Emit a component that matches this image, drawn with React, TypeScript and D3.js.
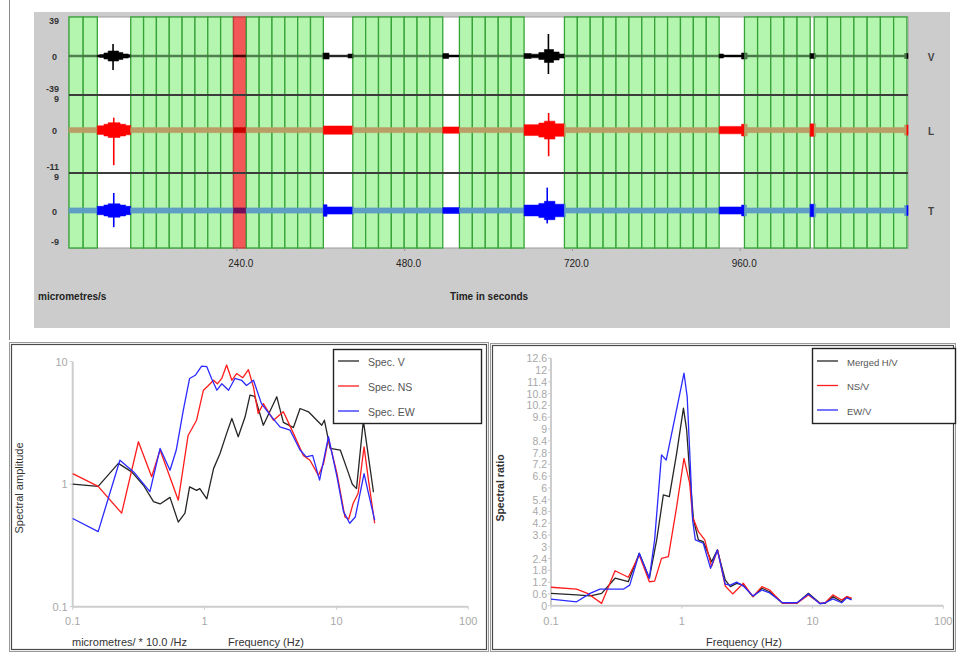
import React from 'react';
import * as d3 from 'd3';

// ---------------- Top panel: three-component record ----------------
const TIME_DOMAIN = [0, 1200];
const TIME_TICKS = [240, 480, 720, 960];
const TIME_TICK_LABELS = ['240.0', '480.0', '720.0', '960.0'];
const CHANNEL_NAMES = ['V', 'L', 'T'];
const CHANNEL_RANGES = [[-39, 39], [-11, 9], [-9, 9]];
const CHANNEL_TICK_LABELS = [['39', '0', '-39'], ['9', '0', '-11'], ['9', '0', '-9']];
// selected windows: [start s, end s, number of windows]
const WINDOW_RUNS = [
  [0, 40.5, 2],
  [88.3, 363.8, 15],
  [405.9, 534.6, 7],
  [558.4, 650.9, 5],
  [708.6, 929.9, 12],
  [966.1, 1060.1, 5],
  [1065.8, 1198.4, 7],
];
// [run index, window index] of rejected windows
const REJECTED_WINDOWS = [[1, 8]];
// background noise half-amplitude per channel (channel units)
const NOISE_LEVEL = [0.9, 0.65, 0.62];
// louder parts of each trace: [start s, end s, half-amplitude]
const LOUD_V = [[40, 44, 1.0], [44, 50, 1.5], [50, 56, 3], [56, 70, 5], [70, 76, 3.5], [76, 84, 2], [84, 88, 1.2], [363, 371, 3], [371, 399, 0.8], [399, 406, 2], [535, 542, 2.5], [542, 558, 0.9], [651, 660, 2.5], [660, 672, 1.8], [672, 680, 3.5], [680, 692, 6.5], [692, 700, 4], [700, 708, 2], [930, 935, 2], [935, 962, 0.9], [962, 969, 3], [1060, 1067, 2.5], [1195, 1200, 2.5]];
const LOUD_L = [[40, 50, 1.1], [50, 56, 1.5], [56, 72, 1.9], [72, 80, 1.5], [80, 88, 1.2], [364, 406, 1.05], [535, 558, 0.8], [651, 672, 1.4], [672, 680, 1.8], [680, 694, 2.3], [694, 709, 1.6], [930, 966, 0.95], [962, 969, 1.5], [1060, 1067, 1.6], [1195, 1200, 1.3]];
const LOUD_T = [[40, 50, 1.0], [50, 56, 1.3], [56, 72, 1.6], [72, 80, 1.3], [80, 88, 1.0], [364, 406, 0.85], [364, 368, 1.4], [535, 558, 0.7], [651, 672, 1.3], [672, 680, 1.7], [680, 694, 2.2], [694, 709, 1.5], [930, 966, 0.85], [962, 968, 1.3], [1060, 1067, 1.5], [1195, 1200, 1.2]];
const LOUD = [LOUD_V, LOUD_L, LOUD_T];
// spikes: [time s, up, down]
const SPIKES_V = [[63, 12, 14], [685.7, 22, 18]];
const SPIKES_L = [[64, 3.2, 9], [686, 4.4, 6.7]];
const SPIKES_T = [[64, 4.2, 4.0], [684, 5.5, 3.1]];
const SPIKES = [SPIKES_V, SPIKES_L, SPIKES_T];

// ---------------- Bottom left: spectra ----------------
const SPEC_V_F = [0.1, 0.156, 0.222, 0.28, 0.344, 0.41, 0.46, 0.547, 0.632, 0.71, 0.77, 0.87, 0.92, 1.04, 1.17, 1.31, 1.47, 1.61, 1.8, 2.03, 2.21, 2.4, 2.79, 3.53, 3.96, 4.72, 5.3, 6.14, 7.1, 7.74, 8.1, 8.96, 10.7, 12.0, 13.2, 14.2, 16.0, 19.1];
const SPEC_V_A = [1.0, 0.96, 1.48, 1.26, 0.98, 0.72, 0.69, 0.78, 0.49, 0.58, 0.95, 0.89, 0.92, 0.76, 1.34, 1.78, 2.6, 3.44, 2.44, 3.55, 5.33, 5.2, 3.03, 5.17, 3.2, 2.9, 4.15, 3.9, 3.33, 3.03, 3.33, 1.96, 1.9, 1.34, 1.0, 0.92, 3.3, 0.86];
const SPEC_NS_F = [0.1, 0.156, 0.235, 0.315, 0.397, 0.46, 0.632, 0.75, 0.87, 0.98, 1.07, 1.17, 1.25, 1.35, 1.47, 1.61, 1.75, 1.95, 2.15, 2.35, 2.55, 2.79, 3.33, 3.96, 4.72, 5.6, 6.3, 7.3, 8.0, 8.7, 10.1, 11.6, 12.4, 13.4, 14.6, 16.2, 17.5, 19.5];
const SPEC_NS_A = [1.22, 0.96, 0.58, 2.22, 1.15, 1.9, 0.74, 2.5, 3.33, 5.85, 6.4, 7.05, 6.6, 7.3, 9.4, 7.05, 8.0, 7.4, 8.6, 6.2, 3.78, 4.55, 3.33, 3.9, 2.6, 1.72, 1.57, 1.18, 1.48, 2.36, 1.22, 0.54, 0.52, 0.7, 0.84, 2.02, 1.08, 0.48];
const SPEC_EW_F = [0.1, 0.156, 0.228, 0.29, 0.385, 0.46, 0.547, 0.61, 0.69, 0.77, 0.85, 0.95, 1.04, 1.13, 1.24, 1.35, 1.52, 1.7, 1.91, 2.08, 2.35, 2.7, 3.15, 3.73, 4.45, 5.3, 5.9, 6.6, 7.45, 8.7, 10.1, 11.3, 12.6, 13.9, 16.2, 17.5, 19.5];
const SPEC_EW_A = [0.525, 0.41, 1.57, 1.26, 0.87, 1.96, 1.3, 1.9, 4.02, 7.3, 7.75, 9.2, 9.1, 7.3, 5.85, 6.6, 5.85, 7.3, 7.05, 6.4, 7.05, 4.55, 3.66, 2.94, 2.76, 1.9, 1.67, 1.72, 1.08, 2.44, 1.15, 0.6, 0.48, 0.54, 1.22, 0.84, 0.51];
const SPEC_NAMES = ['Spec. V', 'Spec. NS', 'Spec. EW'];
const SPEC_Y_TICKS = [10, 1, 0.1];
const SPEC_Y_LABELS = ['10', '1', '0.1'];
const FREQ_TICKS = [0.1, 1, 10, 100];
const FREQ_LABELS = ['0.1', '1', '10', '100'];

// ---------------- Bottom right: H/V ratios ----------------
const HV_F = [0.1, 0.157, 0.2, 0.244, 0.309, 0.39, 0.473, 0.565, 0.643, 0.723, 0.803, 0.914, 1.03, 1.09, 1.15, 1.23, 1.34, 1.46, 1.69, 1.87, 2.15, 2.35, 2.63, 2.96, 3.5, 4.1, 4.7, 5.9, 7.6, 9.3, 11.4, 12.5, 14.3, 16.7, 18.3, 19.9];
const HV_V = [0.63, 0.55, 0.5, 0.63, 1.4, 1.22, 2.67, 1.4, 3.35, 5.64, 5.55, 7.76, 10.06, 8.95, 6.74, 4.37, 3.35, 3.26, 2.24, 2.84, 1.31, 0.97, 1.14, 1.05, 0.46, 0.89, 0.71, 0.12, 0.12, 0.63, 0.12, 0.12, 0.46, 0.2, 0.46, 0.33];
const NSV_F = [0.1, 0.157, 0.19, 0.244, 0.309, 0.39, 0.473, 0.565, 0.62, 0.7, 0.79, 0.914, 1.04, 1.15, 1.21, 1.34, 1.5, 1.69, 1.88, 2.15, 2.45, 2.96, 3.5, 4.1, 4.7, 5.9, 7.6, 9.3, 11.4, 12.5, 14.3, 16.7, 18.3, 19.9];
const NSV_V = [0.94, 0.84, 0.63, 0.12, 1.78, 1.45, 2.58, 1.22, 1.25, 2.41, 2.5, 5.04, 7.5, 6.23, 4.53, 3.77, 3.35, 1.99, 2.84, 1.0, 0.6, 1.14, 0.46, 0.97, 0.8, 0.12, 0.12, 0.55, 0.12, 0.15, 0.55, 0.29, 0.46, 0.38];
const EWV_F = [0.1, 0.157, 0.199, 0.237, 0.357, 0.4, 0.473, 0.565, 0.62, 0.7, 0.76, 0.89, 1.04, 1.1, 1.17, 1.21, 1.27, 1.46, 1.66, 1.87, 2.15, 2.35, 2.63, 2.96, 3.5, 4.1, 4.7, 5.9, 7.6, 9.3, 11.4, 12.5, 14.3, 16.7, 18.3, 19.9];
const EWV_V = [0.33, 0.2, 0.63, 0.84, 0.84, 1.05, 2.67, 1.4, 3.35, 7.68, 7.42, 9.63, 11.84, 10.65, 6.74, 4.37, 3.35, 3.18, 1.9, 2.84, 1.1, 1.05, 1.2, 1.0, 0.5, 0.8, 0.65, 0.15, 0.15, 0.6, 0.1, 0.15, 0.35, 0.15, 0.4, 0.3];
const HV_NAMES = ['Merged H/V', 'NS/V', 'EW/V'];
const RATIO_TICKS = [0, 0.6, 1.2, 1.8, 2.4, 3, 3.6, 4.2, 4.8, 5.4, 6, 6.6, 7.2, 7.8, 8.4, 9, 9.6, 10.2, 10.8, 11.4, 12, 12.6];
const RATIO_LABELS = ['0', '0.6', '1.2', '1.8', '2.4', '3', '3.6', '4.2', '4.8', '5.4', '6', '6.6', '7.2', '7.8', '8.4', '9', '9.6', '10.2', '10.8', '11.4', '12', '12.6'];

const FONT = 'Liberation Sans, Arial, sans-serif';
const GAP_COLORS = ['#000000', '#ff0000', '#0000ff'];
const WIN_COLORS = ['#4a7a4a', '#bb9e66', '#5f9fc6'];
const REJ_COLORS = ['#3a0000', '#c80000', '#70105a'];
const SERIES_COLORS = ['#262626', '#ff1c1c', '#2b2bff'];

export default function App() {
  // ----- top panel geometry -----
  const plotL = 69, plotR = 908, plotT = 17, plotB = 248;
  const chTops = [17, 95, 173];
  const chBots = [95, 173, 248];
  const x = d3.scaleLinear().domain(TIME_DOMAIN).range([plotL, plotR]);
  const yCh = CHANNEL_RANGES.map((r, i) => d3.scaleLinear().domain(r).range([chBots[i], chTops[i]]));

  const windows = WINDOW_RUNS.flatMap(([a, b, n], ri) =>
    d3.range(n).map((i) => ({
      t0: a + ((b - a) * i) / n,
      t1: a + ((b - a) * (i + 1)) / n,
      rejected: REJECTED_WINDOWS.some(([r, k]) => r === ri && k === i),
    }))
  );
  const bounds = Array.from(new Set([TIME_DOMAIN[0], TIME_DOMAIN[1], ...windows.flatMap((w) => [w.t0, w.t1])])).sort((a, b) => a - b);
  const stateAt = (t: number) => {
    const w = windows.find((w) => t >= w.t0 && t <= w.t1);
    return w ? (w.rejected ? 'rej' : 'win') : 'gap';
  };
  const colorFor = (c: number, s: string) => (s === 'gap' ? GAP_COLORS[c] : s === 'rej' ? REJ_COLORS[c] : WIN_COLORS[c]);
  const ampAt = (c: number, t: number) => {
    let a = -1;
    for (const [s, e, v] of LOUD[c]) if (t >= s && t <= e) a = Math.max(a, v);
    return a < 0 ? NOISE_LEVEL[c] : a;
  };
  const intervals = d3.pairs(bounds).filter(([a, b]) => b - a > 0.01);

  const traceEls: any[] = [];
  CHANNEL_NAMES.forEach((_, c) => {
    const y = yCh[c];
    const area = d3
      .area<number>()
      .x((t) => x(t))
      .y0((t) => y(-ampAt(c, t)))
      .y1((t) => y(ampAt(c, t)))
      .curve(d3.curveStepAfter);
    intervals.forEach(([a, b], k) => {
      const pts = [a, ...d3.range(Math.ceil(a), b, 1).filter((t) => t > a), b];
      const col = colorFor(c, stateAt((a + b) / 2));
      traceEls.push(<path key={`tr${c}-${k}`} d={area(pts) || ''} fill={col} stroke={col} strokeWidth={0.6} />);
    });
    SPIKES[c].forEach(([t, up, dn], k) => {
      traceEls.push(<line key={`sp${c}-${k}`} x1={x(t)} x2={x(t)} y1={y(up)} y2={y(-dn)} stroke={colorFor(c, stateAt(t))} strokeWidth={1.6} />);
    });
  });

  // ----- bottom-left spectra -----
  const xL = d3.scaleLog().domain([0.1, 100]).range([72.7, 468.3]);
  const yL = d3.scaleLog().domain([0.1, 10]).range([606.7, 361.7]);
  const lineL = d3.line<[number, number]>().x((d) => xL(d[0])).y((d) => yL(d[1]));
  const specSeries = [
    d3.zip(SPEC_V_F, SPEC_V_A),
    d3.zip(SPEC_NS_F, SPEC_NS_A),
    d3.zip(SPEC_EW_F, SPEC_EW_A),
  ] as [number, number][][];

  // ----- bottom-right H/V -----
  const xR = d3.scaleLog().domain([0.1, 100]).range([551, 943.3]);
  const yR = d3.scaleLinear().domain([0, 12.6]).range([605.7, 358.3]);
  const lineR = d3.line<[number, number]>().x((d) => xR(d[0])).y((d) => yR(d[1]));
  const hvSeries = [d3.zip(HV_F, HV_V), d3.zip(NSV_F, NSV_V), d3.zip(EWV_F, EWV_V)] as [number, number][][];

  const tickGray = '#a8a8a8';
  const axisGray = '#cdcdcd';

  return (
    <svg width={957} height={653} style={{ position: 'absolute', left: 0, top: 0, background: '#fff' }} fontFamily={FONT}>
      <rect x={0} y={0} width={957} height={653} fill="#fff" />
      {/* left thin line */}
      <line x1={9.5} x2={9.5} y1={0} y2={340} stroke="#8a8a8a" strokeWidth={1} />

      {/* ===== Top panel ===== */}
      <rect x={34} y={12} width={916} height={316} fill="#cccccc" />
      <rect x={plotL} y={plotT} width={plotR - plotL} height={plotB - plotT} fill="#ffffff" stroke="#9c9c9c" strokeWidth={1} />
      {windows.map((w, i) => (
        <rect
          key={`w${i}`}
          x={x(w.t0)}
          y={plotT}
          width={x(w.t1) - x(w.t0)}
          height={plotB - plotT}
          fill={w.rejected ? '#f25858' : '#b4f6b0'}
          stroke={w.rejected ? '#c53a3a' : '#36a336'}
          strokeWidth={1.3}
        />
      ))}
      {traceEls}
      {/* channel separators */}
      <line x1={plotL} x2={plotR} y1={95} y2={95} stroke="#3c3c3c" strokeWidth={2} />
      <line x1={plotL} x2={plotR} y1={173} y2={173} stroke="#3c3c3c" strokeWidth={2} />
      {TIME_TICKS.map((t) => (
        <line key={`tt${t}`} x1={x(t)} x2={x(t)} y1={plotB} y2={plotB + 3} stroke="#999" />
      ))}
      {/* channel tick labels */}
      {CHANNEL_NAMES.map((n, c) => (
        <g key={`cl${c}`} fontSize={9} fontWeight="bold" fill="#333" textAnchor="end">
          <text x={59} y={chTops[c] + 4} dominantBaseline="central">{CHANNEL_TICK_LABELS[c][0]}</text>
          <text x={57} y={yCh[c](0) + 1} dominantBaseline="central">{CHANNEL_TICK_LABELS[c][1]}</text>
          <text x={59} y={chBots[c] - 6} dominantBaseline="central">{CHANNEL_TICK_LABELS[c][2]}</text>
          <text x={931} y={yCh[c](0) + 1} dominantBaseline="central" textAnchor="middle" fontSize={10} fill="#444">{n}</text>
        </g>
      ))}
      {TIME_TICKS.map((t, i) => (
        <text key={`tl${t}`} x={x(t) + 4} y={263} textAnchor="middle" dominantBaseline="central" fontSize={10} fill="#222">
          {TIME_TICK_LABELS[i]}
        </text>
      ))}
      <text x={38} y={296} dominantBaseline="central" fontSize={10} fontWeight="bold" fill="#222">micrometres/s</text>
      <text x={450} y={296} dominantBaseline="central" fontSize={10} fontWeight="bold" fill="#222">Time in seconds</text>

      {/* ===== Bottom-left panel ===== */}
      <rect x={9.5} y={342.5} width={479} height={309} fill="#fff" stroke="#9a9a9a" strokeWidth={1} />
      <rect x={11.5} y={344.5} width={475} height={305} fill="none" stroke="#4a4a4a" strokeWidth={1.2} />
      <line x1={xL(0.1)} x2={xL(0.1)} y1={yL(10)} y2={yL(0.1)} stroke={axisGray} strokeWidth={2} />
      <line x1={xL(0.1)} x2={xL(100)} y1={yL(0.1)} y2={yL(0.1)} stroke={axisGray} strokeWidth={2} />
      {SPEC_Y_TICKS.map((v, i) => (
        <g key={`ly${i}`}>
          <line x1={xL(0.1) - 3} x2={xL(0.1)} y1={yL(v)} y2={yL(v)} stroke={axisGray} />
          <text x={xL(0.1) - 5} y={yL(v)} textAnchor="end" dominantBaseline="central" fontSize={11} fill={tickGray}>{SPEC_Y_LABELS[i]}</text>
        </g>
      ))}
      {FREQ_TICKS.map((v, i) => (
        <g key={`lx${i}`}>
          <line x1={xL(v)} x2={xL(v)} y1={yL(0.1)} y2={yL(0.1) + 3} stroke={axisGray} />
          <text x={xL(v)} y={621} textAnchor="middle" dominantBaseline="central" fontSize={11} fill={tickGray}>{FREQ_LABELS[i]}</text>
        </g>
      ))}
      {specSeries.map((s, i) => (
        <path key={`sl${i}`} d={lineL(s) || ''} fill="none" stroke={SERIES_COLORS[i]} strokeWidth={1.3} strokeLinejoin="round" />
      ))}
      <text x={19} y={488} transform="rotate(-90 19 488)" textAnchor="middle" dominantBaseline="central" fontSize={11} fill="#333">Spectral amplitude</text>
      <text x={72} y={642} dominantBaseline="central" fontSize={11} fill="#333">micrometres/ * 10.0 /Hz</text>
      <text x={228} y={642} dominantBaseline="central" fontSize={11} fill="#333">Frequency (Hz)</text>
      <rect x={333.5} y={349.5} width={148} height={74} fill="#fff" stroke="#222" strokeWidth={1.4} />
      {SPEC_NAMES.map((n, i) => (
        <g key={`lg${i}`}>
          <line x1={338} x2={359} y1={361 + i * 25} y2={361 + i * 25} stroke={SERIES_COLORS[i]} strokeWidth={1.3} />
          <text x={368} y={362 + i * 25} dominantBaseline="central" fontSize={10.5} fill="#555">{n}</text>
        </g>
      ))}

      {/* ===== Bottom-right panel ===== */}
      <rect x={490.5} y={343.5} width={465} height={308} fill="#fff" stroke="#9a9a9a" strokeWidth={1} />
      <rect x={492.5} y={345.5} width={461} height={304} fill="none" stroke="#4a4a4a" strokeWidth={1.2} />
      <line x1={xR(0.1)} x2={xR(0.1)} y1={yR(12.6)} y2={yR(0)} stroke={axisGray} strokeWidth={2} />
      <line x1={xR(0.1)} x2={xR(100)} y1={yR(0)} y2={yR(0)} stroke={axisGray} strokeWidth={2} />
      {RATIO_TICKS.map((v, i) => (
        <g key={`ry${i}`}>
          <line x1={xR(0.1) - 3} x2={xR(0.1)} y1={yR(v)} y2={yR(v)} stroke={axisGray} />
          <text x={xR(0.1) - 4} y={yR(v)} textAnchor="end" dominantBaseline="central" fontSize={10.5} fill={tickGray}>{RATIO_LABELS[i]}</text>
        </g>
      ))}
      {FREQ_TICKS.map((v, i) => (
        <g key={`rx${i}`}>
          <line x1={xR(v)} x2={xR(v)} y1={yR(0)} y2={yR(0) + 3} stroke={axisGray} />
          <text x={xR(v)} y={621} textAnchor="middle" dominantBaseline="central" fontSize={11} fill={tickGray}>{FREQ_LABELS[i]}</text>
        </g>
      ))}
      {hvSeries.map((s, i) => (
        <path key={`hl${i}`} d={lineR(s) || ''} fill="none" stroke={SERIES_COLORS[i]} strokeWidth={1.3} strokeLinejoin="round" />
      ))}
      <text x={500} y={488} transform="rotate(-90 500 488)" textAnchor="middle" dominantBaseline="central" fontSize={10.5} fontWeight="bold" fill="#333">Spectral ratio</text>
      <text x={706} y={642} dominantBaseline="central" fontSize={11} fill="#333">Frequency (Hz)</text>
      <rect x={812.5} y={348.5} width={143} height={75} fill="#fff" stroke="#222" strokeWidth={1.4} />
      {HV_NAMES.map((n, i) => (
        <g key={`rg${i}`}>
          <line x1={817} x2={838} y1={361 + i * 24.5} y2={361 + i * 24.5} stroke={SERIES_COLORS[i]} strokeWidth={1.3} />
          <text x={847} y={362 + i * 24.5} dominantBaseline="central" fontSize={9.5} fill="#555">{n}</text>
        </g>
      ))}
    </svg>
  );
}
